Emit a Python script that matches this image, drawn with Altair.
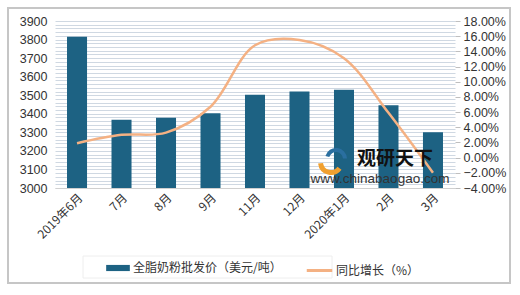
import altair as alt
import pandas as pd

months = ["2019年6月", "7月", "8月", "9月", "11月", "12月", "2020年1月", "2月", "3月"]
price = [3815, 3368, 3378, 3403, 3502, 3520, 3530, 3446, 3300]
yoy = [0.019, 0.030, 0.033, 0.067, 0.148, 0.155, 0.131, 0.059, -0.020]

df = pd.DataFrame({"month": months, "price": price, "yoy": yoy})

FONT = "Noto Sans CJK SC"
NUMFONT = "Liberation Sans"
BAR = "#1d6283"
LINE = "#f4b183"

x = alt.X("month:N", sort=months, title=None,
          scale=alt.Scale(paddingInner=0.55, paddingOuter=0.27),
          axis=alt.Axis(labelAngle=-45, ticks=False, domainColor="#d0d0d0",
                        labelFontSize=12, labelColor="#333333", labelPadding=4))

bars = alt.Chart(df).mark_bar(color=BAR, clip=True).encode(
    x=x,
    y=alt.Y("price:Q", title=None,
            scale=alt.Scale(domain=[3000, 3900], nice=False, zero=False),
            axis=alt.Axis(values=list(range(3000, 3901, 20)), format="d",
                          labelExpr="datum.value % 100 == 0 ? datum.label : ''",
                          ticks=False, domain=False, grid=True, gridColor="#cfd8e2",
                          gridWidth=1, labelFont=NUMFONT, labelFontSize=12.5,
                          labelColor="#333333", labelPadding=8)),
    color=alt.Color("s:N", title=None,
                    scale=alt.Scale(domain=["全脂奶粉批发价（美元/吨）"], range=[BAR]),
                    legend=alt.Legend(orient="none", legendX=51, legendY=235,
                                      symbolType="M-1,-0.26H1V0.26H-1Z", symbolSize=560,
                                      labelFontSize=12, labelColor="#333333",
                                      symbolStrokeWidth=0, labelOffset=3)),
).transform_calculate(s="'全脂奶粉批发价（美元/吨）'")

line = alt.Chart(df).mark_line(color=LINE, strokeWidth=2.5, interpolate="catmull-rom").encode(
    x=x,
    y=alt.Y("yoy:Q", title=None,
            scale=alt.Scale(domain=[-0.04, 0.18], nice=False),
            axis=alt.Axis(orient="right", format=".2%",
                          values=[round(-0.04 + 0.02 * i, 2) for i in range(12)],
                          grid=False, domain=False, ticks=True, tickColor="#bfbfbf",
                          tickSize=5, labelFont=NUMFONT, labelFontSize=12.5,
                          labelColor="#333333", labelPadding=3)),
    stroke=alt.Stroke("t:N", title=None,
                      scale=alt.Scale(domain=["同比增长（%）"], range=[LINE]),
                      legend=alt.Legend(orient="none", legendX=250, legendY=235,
                                        symbolType="stroke", symbolSize=650,
                                        symbolStrokeWidth=3, labelFontSize=12,
                                        labelColor="#333333", labelOffset=2)),
).transform_calculate(t="'同比增长（%）'")

deco = pd.DataFrame({"a": [1]})
frame = alt.Chart(deco).mark_rect(fill=None, stroke="#c6c6c6", strokeWidth=2).encode(
    x=alt.value(-47), x2=alt.value(455), y=alt.value(-13), y2=alt.value(262))
legbox = alt.Chart(deco).mark_rect(fill="white", stroke="#eeeeee", strokeWidth=1).encode(
    x=alt.value(28), x2=alt.value(277), y=alt.value(235), y2=alt.value(257))

wm1 = alt.Chart(deco).mark_text(text="观研天下", font=FONT, fontSize=19, fontWeight="bold",
                                color="#111111", align="left", baseline="middle").encode(
    x=alt.value(302), y=alt.value(138))
wm2 = alt.Chart(deco).mark_text(text="www.chinabaogao.com", font=NUMFONT, fontSize=13.5,
                                color="#333333", align="center", baseline="middle").encode(
    x=alt.value(325), y=alt.value(158))
logo1 = alt.Chart(deco).mark_arc(color="#f0a030", radius=13, radius2=8, theta=2.2, theta2=4.6).encode(
    x=alt.value(276), y=alt.value(141))
logo2 = alt.Chart(deco).mark_arc(color="#2a6fa0", radius=11, radius2=7, theta=5.0, theta2=7.8).encode(
    x=alt.value(281), y=alt.value(138))

chart = alt.layer(frame, legbox, bars, line, logo1, logo2, wm1, wm2).resolve_scale(
    y="independent", color="independent", stroke="independent"
).properties(
    width=400, height=167,
    autosize=alt.AutoSizeParams(type="none"),
    padding={"left": 55, "top": 21, "right": 65, "bottom": 107},
    background="white",
).configure(font=FONT).configure_view(stroke=None).configure_legend(
    direction="horizontal", labelFont=FONT)

chart.save("out.html", embed_options={"renderer": "svg", "actions": False})
